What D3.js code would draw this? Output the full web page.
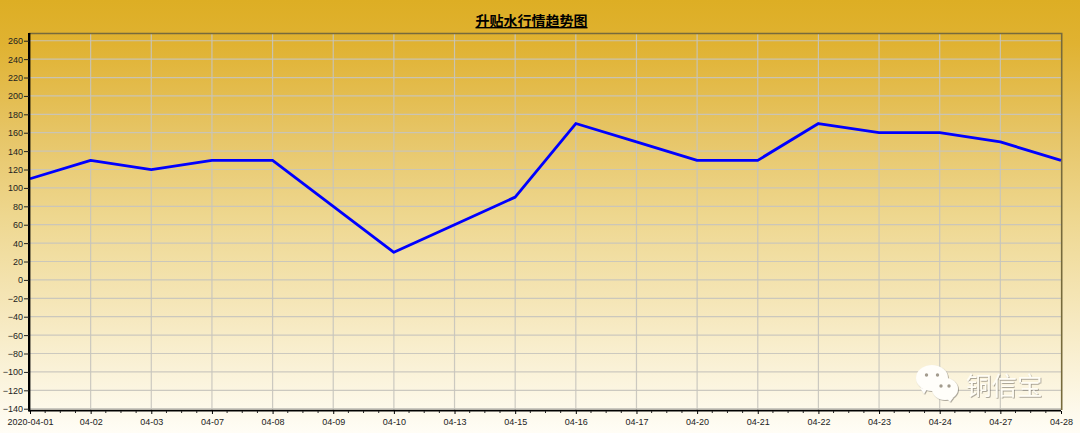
<!DOCTYPE html>
<html><head><meta charset="utf-8">
<script src="https://cdn.jsdelivr.net/npm/d3@7/dist/d3.min.js"></script>
<style>html,body{margin:0;padding:0;background:#fff;overflow:hidden}svg{display:block}</style>
</head><body><svg id="c" width="1080" height="433"></svg>
<script>
const titleText = "升贴水行情趋势图";
const categories = ["2020-04-01","04-02","04-03","04-07","04-08","04-09","04-10","04-13","04-15","04-16","04-17","04-20","04-21","04-22","04-23","04-24","04-27","04-28"];
const values = [110,130,120,130,130,80,30,60,90,170,150,130,130,170,160,160,150,130];
const yTicks = d3.range(-140, 261, 20);
const watermarkText = "铜信宝";

const W = 1080, H = 433;
const L = 29, R = 1061, T = 33, B = 410;
const svg = d3.select("#c");
const defs = svg.append("defs");
const g = defs.append("linearGradient").attr("id","bg").attr("x1",0).attr("y1",0).attr("x2",0).attr("y2",1);
[[0,"#ddae24"],[0.1,"#e0b231"],[0.3,"#e6c464"],[0.5,"#eed78f"],[0.7,"#f5e6b8"],[0.88,"#fbf4dd"],[1,"#fffdf6"]]
  .forEach(([o,c])=>g.append("stop").attr("offset",o).attr("stop-color",c));
svg.append("rect").attr("width",W).attr("height",H).attr("fill","url(#bg)");
const f = defs.append("filter").attr("id","sh").attr("x","-10%").attr("y","-10%").attr("width","125%").attr("height","125%");
f.append("feDropShadow").attr("dx",0.8).attr("dy",0.8).attr("stdDeviation",0.6).attr("flood-color","#6f6a60").attr("flood-opacity",0.7);

const x = d3.scalePoint().domain(categories).range([30, R]);
const y = d3.scaleLinear().domain([-141.4, 268.4]).range([B, T]);

// grid
const grid = svg.append("g").attr("stroke","#c6c4bc").attr("stroke-width",1.2).attr("stroke-opacity",.9);
grid.selectAll("line.h").data(yTicks).join("line").attr("class","h")
  .attr("x1",L).attr("x2",R).attr("y1",d=>y(d)).attr("y2",d=>y(d));
grid.selectAll("line.v").data(categories.slice(1,-1)).join("line").attr("class","v")
  .attr("y1",T).attr("y2",B).attr("x1",d=>x(d)).attr("x2",d=>x(d));

// frame
svg.append("path").attr("d",`M${L},${T+.5}H${R+.7}V${B}`).attr("fill","none").attr("stroke","#766a3c").attr("stroke-width",1.6);

// line
svg.append("path").datum(values)
  .attr("fill","none").attr("stroke","#0000ff").attr("stroke-width",2.8).attr("stroke-linejoin","round")
  .attr("d",d3.line().x((d,i)=>x(categories[i])).y(d=>y(d)));

// watermark
const wm = svg.append("g").attr("filter","url(#sh)");
const bubble = (cx,cy,rx,ry,tailX,tailY,tailEnd,eyes)=>{
  const b = wm.append("g");
  b.append("ellipse").attr("cx",cx).attr("cy",cy).attr("rx",rx).attr("ry",ry).attr("fill","#fffefa");
  b.append("path").attr("d",`M${cx+tailX-4},${cy+ry-3}L${cx+tailX},${cy+ry+tailY}L${cx+tailX+tailEnd},${cy+ry-2}Z`).attr("fill","#fffefa");
  eyes.forEach(e=>b.append("circle").attr("cx",cx+e).attr("cy",cy-3).attr("r",1.7).attr("fill","#a39c8e"));
};
bubble(932,378,16,13,-8,3,3,[-5.5,5.5]);
bubble(945,389,13,11,5,2,3,[-4,4]);
wm.append("text").text(watermarkText).attr("x",966).attr("y",395)
  .attr("font-family","'Noto Sans CJK SC'").attr("font-size",25.5).attr("fill","#fffdf5");

// axes
const font = "'Liberation Sans',Arial,sans-serif";
const ax = svg.append("g").attr("transform",`translate(0,${B})`).call(d3.axisBottom(x).tickSize(4).tickPadding(5));
ax.select(".domain").attr("stroke","#000").attr("stroke-width",1.8).attr("d",`M${L},0.7H${R}`);
ax.selectAll("line").attr("stroke","#000").attr("y1",1);
ax.selectAll("text").attr("font-family",font).attr("font-size",9).attr("fill","#222");

// x minor ticks
const minorX = [];
categories.slice(0,-1).forEach((c,i)=>{ [1,2,3].forEach(k=>minorX.push([i,k])); });
svg.append("g").selectAll("line").data(minorX).join("line")
  .attr("x1",d=>x(categories[d[0]])+(x(categories[d[0]+1])-x(categories[d[0]]))*d[1]/4)
  .attr("x2",d=>x(categories[d[0]])+(x(categories[d[0]+1])-x(categories[d[0]]))*d[1]/4)
  .attr("y1",B+1).attr("y2",B+3).attr("stroke","#222");

const ay = svg.append("g").attr("transform",`translate(${L},0)`)
  .call(d3.axisLeft(y).tickValues(yTicks).tickSize(5).tickPadding(1));
ay.select(".domain").attr("stroke","#000").attr("stroke-width",2.4).attr("d",`M0.2,${T}V${B+1.5}`);
ay.selectAll("line").attr("stroke","#222");
ay.selectAll("text").attr("font-family",font).attr("font-size",9).attr("fill","#222");

// title
svg.append("text").text(titleText).attr("x",531.5).attr("y",26).attr("text-anchor","middle")
  .attr("font-family","'Noto Sans CJK SC'").attr("font-weight",700).attr("font-size",14)
  .attr("fill","#000").attr("text-decoration","underline");
</script></body></html>
